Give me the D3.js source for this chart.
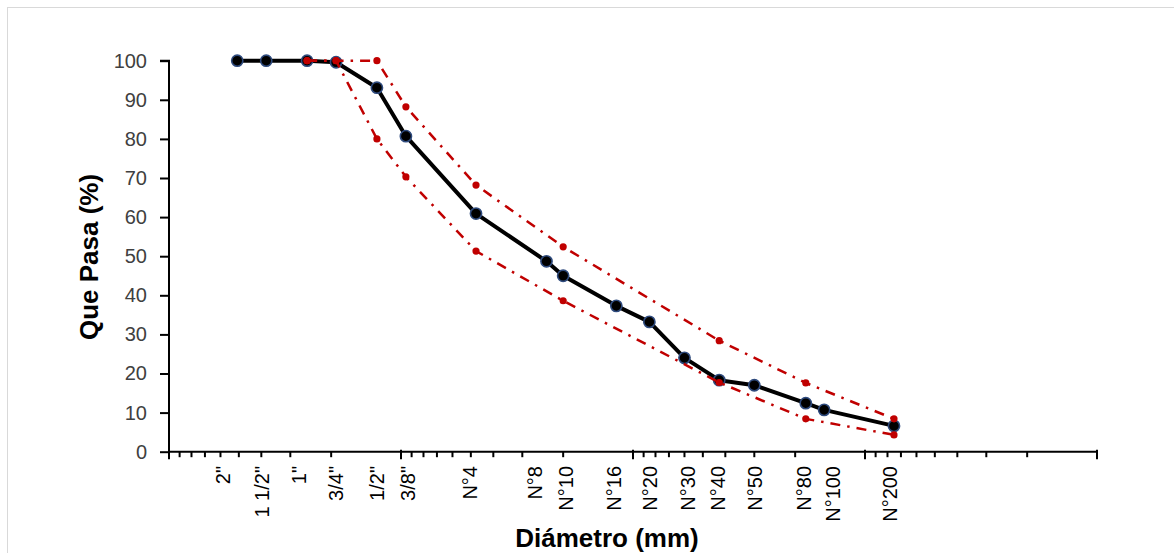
<!DOCTYPE html>
<html>
<head>
<meta charset="utf-8">
<script src="https://cdn.jsdelivr.net/npm/d3@7"></script>
<style>
  html, body { margin: 0; padding: 0; background: #fff; }
  svg { display: block; font-family: "Liberation Sans", Arial, sans-serif; }
</style>
</head>
<body>
<svg id="chart" width="1174" height="553"></svg>
<script>
// ---- data ----
const sieveLabels = ['2"', '1 1/2"', '1"', '3/4"', '1/2"', '3/8"', 'N°4', 'N°8', 'N°10', 'N°16', 'N°20', 'N°30', 'N°40', 'N°50', 'N°80', 'N°100', 'N°200'];
const sieveSizes = [50.8, 38.1, 25.4, 19.05, 12.7, 9.525, 4.75, 2.36, 2.0, 1.18, 0.85, 0.6, 0.425, 0.3, 0.18, 0.15, 0.075];
const passing = [100, 100, 100, 99.6, 93.1, 80.7, 60.9, 48.7, 45.0, 37.3, 33.2, 24.0, 18.3, 17.0, 12.4, 10.7, 6.6];
const limitSizes = [25.4, 19.05, 12.7, 9.525, 4.75, 2.0, 0.425, 0.18, 0.075];
const upperLimit = [100, 100, 100, 88.2, 68.2, 52.4, 28.4, 17.6, 8.4];
const lowerLimit = [100, 100, 80, 70.3, 51.3, 38.6, 17.7, 8.4, 4.3];
const yTicks = [0, 10, 20, 30, 40, 50, 60, 70, 80, 90, 100];
const xDomain = [100, 0.01];
const yTitle = "Que Pasa (%)";
const xTitle = "Diámetro (mm)";

// ---- layout / style ----
// hand-placed label nudges (px) as in the original text boxes
const labelNudge = [-14, -4, -8, 0, 0, 2, -6, -12, 3, -3, 0, 3, -1, 0, -2, 9, -4];

const svg = d3.select("#chart");
const x = d3.scaleLog().domain(xDomain).range([169, 1097]);
const y = d3.scaleLinear().domain([0, 100]).range([451.7, 60.7]);

// chart border
svg.append("rect").attr("x", 7.5).attr("y", 7.5).attr("width", 1180).attr("height", 570)
  .attr("fill", "#fff").attr("stroke", "#D9D9D9").attr("stroke-width", 1);

// y axis
const yAxis = d3.axisLeft(y).tickValues(yTicks).tickSize(9).tickPadding(13).tickFormat(d3.format("d"));
const gy = svg.append("g").attr("transform", `translate(${x(100)},0)`).call(yAxis);
gy.select(".domain").attr("stroke", "#000").attr("stroke-width", 2).attr("d", `M-9,${y(100)}H0V${y(0) + 3}`);
gy.selectAll(".tick line").attr("stroke", "#000").attr("stroke-width", 2);
gy.selectAll(".tick text").attr("fill", "#404040").style("font-size", "20px")
  .style("font-family", "'Liberation Sans', Arial, sans-serif");

// x axis (log, reversed) with minor ticks
const majorTicks = [];
const minorTicks = [];
for (let e = -2; e <= 2; e++) {
  majorTicks.push(Math.pow(10, e));
  if (e < 2) for (let m = 2; m <= 9; m++) minorTicks.push(m * Math.pow(10, e));
}
const gx = svg.append("g").attr("transform", `translate(0,${y(0)})`);
gx.append("line").attr("x1", x(100) - 1).attr("x2", x(0.01) + 1).attr("y1", 0).attr("y2", 0)
  .attr("stroke", "#000").attr("stroke-width", 2);
gx.selectAll("line.minor").data(minorTicks).join("line").attr("class", "minor")
  .attr("x1", d => x(d)).attr("x2", d => x(d)).attr("y1", 0).attr("y2", 5.5)
  .attr("stroke", "#000").attr("stroke-width", 2);
gx.selectAll("line.major").data(majorTicks).join("line").attr("class", "major")
  .attr("x1", d => x(d)).attr("x2", d => x(d)).attr("y1", -2).attr("y2", 7.5)
  .attr("stroke", "#000").attr("stroke-width", 2);

// sieve labels (rotated)
svg.append("g").selectAll("text").data(sieveLabels).join("text")
  .attr("transform", (d, i) => `translate(${x(sieveSizes[i]) + labelNudge[i]},466) rotate(-90)`)
  .attr("text-anchor", "end").attr("dy", "0.36em")
  .style("font-size", "20px").attr("fill", "#000")
  .text(d => d);

// titles
svg.append("text").attr("transform", "translate(89,257) rotate(-90)")
  .attr("text-anchor", "middle").attr("dy", "0.35em")
  .style("font-size", "26px").style("font-weight", "bold").text(yTitle);
svg.append("text").attr("x", 607).attr("y", 547)
  .attr("text-anchor", "middle")
  .style("font-size", "26px").style("font-weight", "bold").text(xTitle);

// main grading curve
const mainData = sieveSizes.map((s, i) => [s, passing[i]]);
const line = d3.line().x(d => x(d[0])).y(d => y(d[1]));
svg.append("path").datum(mainData).attr("d", line)
  .attr("fill", "none").attr("stroke", "#000").attr("stroke-width", 4).attr("stroke-linejoin", "round");
svg.append("g").selectAll("circle").data(mainData).join("circle")
  .attr("cx", d => x(d[0])).attr("cy", d => y(d[1])).attr("r", 5.6)
  .attr("fill", "#000").attr("stroke", "#2E4A7D").attr("stroke-width", 1.6);

// limit curves
[upperLimit, lowerLimit].forEach(vals => {
  const data = limitSizes.map((s, i) => [s, vals[i]]);
  svg.append("path").datum(data).attr("d", line)
    .attr("fill", "none").attr("stroke", "#C00000").attr("stroke-width", 2.5)
    .attr("stroke-dasharray", "10,7,2.5,7");
  svg.append("g").selectAll("circle").data(data).join("circle")
    .attr("cx", d => x(d[0])).attr("cy", d => y(d[1])).attr("r", 3.6)
    .attr("fill", "#C00000");
});
</script>
</body>
</html>
